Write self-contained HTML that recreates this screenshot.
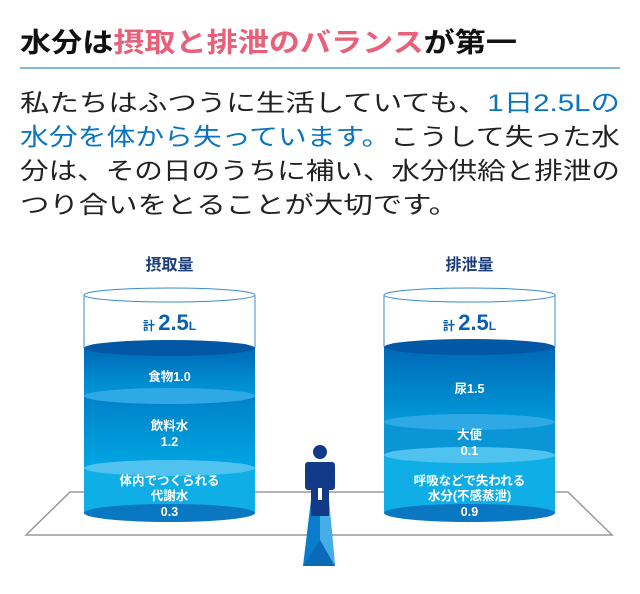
<!DOCTYPE html>
<html><head><meta charset="utf-8"><style>
html,body{margin:0;padding:0;background:#fff;}
svg{display:block;font-family:"Liberation Sans","Noto Sans CJK JP",sans-serif;}
</style></head><body>
<svg width="640" height="594" viewBox="0 0 640 594" xmlns="http://www.w3.org/2000/svg">
<defs>
<linearGradient id="g1" x1="0" y1="0" x2="0" y2="1">
<stop offset="0" stop-color="#0068b7"/><stop offset="1" stop-color="#009ad9"/>
</linearGradient>
<linearGradient id="g2" x1="0" y1="0" x2="0" y2="1">
<stop offset="0" stop-color="#0081c8"/><stop offset="1" stop-color="#00a6e2"/>
</linearGradient>
</defs>
<text x="20" y="52" font-size="27" font-weight="bold" fill="#111" textLength="497" lengthAdjust="spacingAndGlyphs">水分は<tspan fill="#e8607a">摂取と排泄のバランス</tspan>が第一</text>
<rect x="20" y="67" width="600" height="2" fill="#7fb8e0"/>
<g font-size="24" fill="#222">
<text x="20" y="111" textLength="600" lengthAdjust="spacingAndGlyphs">私たちはふつうに生活していても、<tspan fill="#0a74be">1日2.5Lの</tspan></text>
<text x="20" y="145" textLength="600" lengthAdjust="spacingAndGlyphs"><tspan fill="#0a74be">水分を体から失っています。</tspan>こうして失った水</text>
<text x="20" y="179" textLength="600" lengthAdjust="spacingAndGlyphs">分は、その日のうちに補い、水分供給と排泄の</text>
<text x="20" y="213" textLength="438" lengthAdjust="spacingAndGlyphs">つり合いをとることが大切です。</text>
</g>
<!-- floor -->
<polygon points="70,492 568,492 612,535 26,535" fill="none" stroke="#999" stroke-width="1.5"/>

<!-- left cylinder -->
<g>
<rect x="84" y="295" width="171" height="53" fill="#fff"/>
<line x1="84" y1="295" x2="84" y2="348" stroke="#3a8ccf" stroke-width="1"/>
<line x1="255" y1="295" x2="255" y2="348" stroke="#3a8ccf" stroke-width="1"/>
<rect x="84" y="348" width="171" height="48" fill="url(#g1)"/>
<rect x="84" y="396" width="171" height="72" fill="url(#g2)"/>
<rect x="84" y="468" width="171" height="45" fill="#10aee6"/>
<ellipse cx="169.5" cy="513" rx="85.5" ry="9" fill="#0a77c2"/>
<ellipse cx="169.5" cy="348" rx="85.5" ry="8" fill="#0358a6"/>
<ellipse cx="169.5" cy="396" rx="85.5" ry="8" fill="#2fa9e6"/>
<ellipse cx="169.5" cy="468" rx="85.5" ry="8" fill="#4fc2f0"/>
<ellipse cx="169.5" cy="295" rx="85.5" ry="7" fill="#fff" stroke="#3a8ccf" stroke-width="1"/>
<text x="169.5" y="270" text-anchor="middle" font-size="16" font-weight="bold" fill="#1a3d7a">摂取量</text>
<text x="169.5" y="330" text-anchor="middle" font-weight="bold" fill="#0a5fb0"><tspan font-size="12">計 </tspan><tspan font-size="22">2.5</tspan><tspan font-size="12">L</tspan></text>
<g fill="#fff" font-size="12.5" font-weight="bold" text-anchor="middle">
<text x="169.5" y="381">食物1.0</text>
<text x="169.5" y="430">飲料水</text>
<text x="169.5" y="446">1.2</text>
<text x="169.5" y="485">体内でつくられる</text>
<text x="169.5" y="500">代謝水</text>
<text x="169.5" y="516">0.3</text>
</g>
</g>

<!-- right cylinder -->
<g>
<rect x="384" y="295" width="171" height="52" fill="#fff"/>
<line x1="384" y1="295" x2="384" y2="347" stroke="#3a8ccf" stroke-width="1"/>
<line x1="555" y1="295" x2="555" y2="347" stroke="#3a8ccf" stroke-width="1"/>
<rect x="384" y="347" width="171" height="75" fill="url(#g1)"/>
<rect x="384" y="422" width="171" height="33" fill="#0a95d6"/>
<rect x="384" y="455" width="171" height="58" fill="#10aee6"/>
<ellipse cx="469.5" cy="513" rx="85.5" ry="9" fill="#0a77c2"/>
<ellipse cx="469.5" cy="347" rx="85.5" ry="8" fill="#0358a6"/>
<ellipse cx="469.5" cy="422" rx="85.5" ry="8" fill="#2fa9e6"/>
<ellipse cx="469.5" cy="455" rx="85.5" ry="8" fill="#4fc2f0"/>
<ellipse cx="469.5" cy="295" rx="85.5" ry="7" fill="#fff" stroke="#3a8ccf" stroke-width="1"/>
<text x="469.5" y="270" text-anchor="middle" font-size="16" font-weight="bold" fill="#1a3d7a">排泄量</text>
<text x="469.5" y="330" text-anchor="middle" font-weight="bold" fill="#0a5fb0"><tspan font-size="12">計 </tspan><tspan font-size="22">2.5</tspan><tspan font-size="12">L</tspan></text>
<g fill="#fff" font-size="12.5" font-weight="bold" text-anchor="middle">
<text x="469.5" y="393">尿1.5</text>
<text x="469.5" y="439">大便</text>
<text x="469.5" y="455">0.1</text>
<text x="469.5" y="485">呼吸などで失われる</text>
<text x="469.5" y="500">水分(不感蒸泄)</text>
<text x="469.5" y="516">0.9</text>
</g>
</g>

<!-- person -->
<g>
<polygon points="311,500 329,500 335,566 303,566" fill="#0a7ccc"/>
<polygon points="320,500 329,500 335,566 320,545" fill="#45aee6"/>
<polygon points="303,566 320,540 335,566" fill="#0a6ab8"/>
<circle cx="320" cy="452" r="7" fill="#133a88"/>
<rect x="305" y="462" width="30" height="28" rx="3" fill="#133a88"/>
<rect x="311" y="488" width="18" height="28" fill="#133a88"/>
<rect x="318" y="488" width="4" height="12" fill="#fff"/>
</g>
</svg>
</body></html>
